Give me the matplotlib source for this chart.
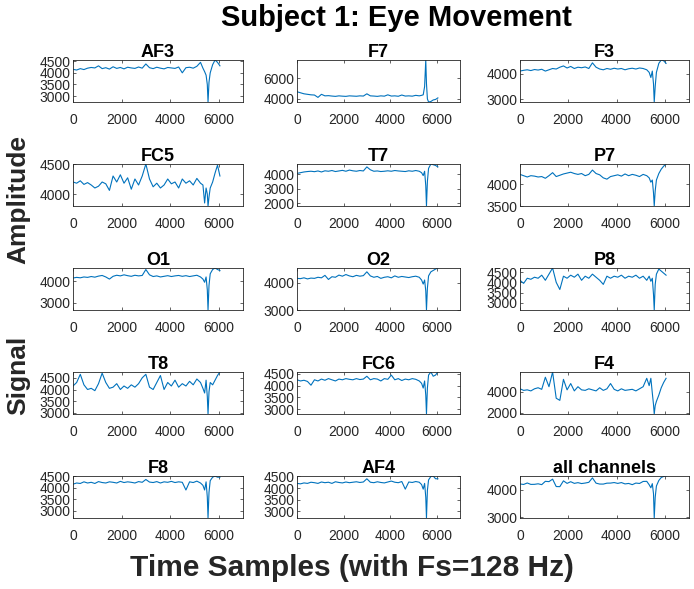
import numpy as np
import matplotlib
matplotlib.use("Agg")
import matplotlib.pyplot as plt

plt.rcParams['font.family'] = ['Liberation Sans', 'DejaVu Sans']

# sample positions the traces were read at
t = [0, 150, 300, 450, 600, 750, 900, 1050, 1200, 1350, 1500, 1650, 1800, 1950,
     2100, 2250, 2400, 2550, 2700, 2850, 3000, 3150, 3300, 3450, 3600, 3750,
     3900, 4050, 4200, 4350, 4500, 4650, 4800, 4950, 5100, 5250,
     5350, 5420, 5480, 5530, 5560, 5600, 5650, 5750, 5850, 5950, 6050]

AF3 = [4150, 4120, 4180, 4140, 4200, 4230, 4210, 4300, 4180, 4220, 4160, 4260, 4190, 4230,
       4170, 4240, 4210, 4190, 4250, 4200, 4380, 4220, 4180, 4240, 4200, 4170,
       4230, 4210, 4190, 4250, 4000, 4220, 4240, 4200, 4280, 4450,
       4200, 4050, 3900, 3500, 2750, 3600, 4000, 4350, 4550, 4450, 4300]
F7 = [4700, 4600, 4500, 4450, 4400, 4380, 4150, 4450, 4300, 4320, 4280, 4250, 4300, 4270,
      4250, 4300, 4280, 4260, 4300, 4280, 4500, 4300, 4280, 4250, 4300, 4270,
      4400, 4280, 4300, 4260, 4380, 4280, 4300, 4270, 4350, 4300,
      4350, 4400, 5200, 7800, 5500, 4000, 3700, 3750, 3900, 3950, 4100]
F3 = [4100, 4130, 4150, 4120, 4160, 4140, 4170, 4100, 4150, 4200, 4180, 4250, 4300, 4220,
      4280, 4200, 4250, 4230, 4260, 4200, 4420, 4250, 4180, 4150, 4200, 4170,
      4210, 4180, 4200, 4150, 4190, 4210, 4180, 4220, 4200, 4150,
      4050, 3850, 4100, 3600, 2900, 3500, 4050, 4400, 4530, 4500, 4400]
FC5 = [4200, 4180, 4220, 4160, 4190, 4150, 4100, 4130, 4200, 4170, 4060, 4300, 4200, 4320,
       4180, 4270, 4080, 4250, 4150, 4300, 4500, 4250, 4120, 4180, 4100, 4150,
       4250, 4170, 4200, 4100, 4250, 4180, 4220, 4150, 4260, 4180,
       4150, 3850, 4100, 4000, 3800, 3950, 4100, 4200, 4350, 4480, 4300]
T7 = [4050, 4100, 4150, 4180, 4200, 4170, 4220, 4150, 4230, 4200, 4250, 4180, 4220, 4260,
      4200, 4280, 4230, 4200, 4250, 4220, 4500, 4300, 4200, 4220, 4180, 4200,
      4230, 4200, 4250, 4220, 4200, 4180, 4230, 4200, 4250, 4200,
      4100, 3900, 4200, 3200, 1800, 3500, 4400, 4700, 4650, 4600, 4500]
P7 = [4230, 4200, 4170, 4200, 4190, 4170, 4180, 4140, 4200, 4270, 4180, 4210, 4240, 4260,
      4280, 4250, 4230, 4250, 4200, 4230, 4330, 4250, 4220, 4150, 4120, 4180,
      4200, 4220, 4190, 4240, 4200, 4230, 4210, 4180, 4230, 4200,
      4150, 4050, 4100, 3800, 3500, 3850, 4100, 4250, 4350, 4420, 4470]
O1 = [4150, 4180, 4160, 4200, 4180, 4220, 4190, 4240, 4270, 4200, 4100, 4230, 4280, 4250,
      4300, 4260, 4230, 4280, 4250, 4270, 4550, 4300, 4220, 4250, 4200, 4230,
      4260, 4220, 4250, 4270, 4230, 4260, 4220, 4250, 4280, 4200,
      4100, 3950, 4200, 3600, 2650, 3800, 4350, 4550, 4620, 4550, 4500]
O2 = [4160, 4150, 4180, 4140, 4170, 4160, 4200, 4180, 4270, 4120, 4220, 4200, 4280, 4240,
      4300, 4250, 4220, 4270, 4240, 4260, 4400, 4250, 4200, 4230, 4160, 4200,
      4220, 4180, 4250, 4200, 4230, 4210, 4190, 4220, 4240, 4200,
      4100, 3950, 4100, 3700, 3000, 3800, 4250, 4400, 4450, 4500, 4540]
P8 = [4100, 3950, 4200, 4150, 4250, 4200, 4350, 4100, 4400, 4700, 4000, 3650, 4300, 4200,
      4350, 4250, 4400, 4100, 4300, 4200, 4400, 4250, 4100, 3900, 4300, 4200,
      4300, 4250, 4350, 4200, 4300, 4250, 4350, 4200, 4300, 4100,
      4300, 4050, 4200, 3400, 2650, 3900, 4400, 4650, 4550, 4450, 4350]
T8 = [4150, 4300, 4650, 4200, 4000, 4050, 3950, 4250, 4700, 4300, 4050, 4100, 4250, 4000,
      4150, 4050, 4200, 4100, 4250, 4500, 4650, 4100, 4000, 4300, 4600, 4000,
      4300, 4150, 4400, 4100, 4250, 4150, 4350, 4200, 4450, 4300,
      4050, 3850, 4400, 3700, 2950, 3900, 4300, 4200, 4400, 4600, 4750]
FC6 = [4250, 4200, 4230, 4180, 4020, 4250, 4200, 4280, 4230, 4300, 4250, 4200, 4280, 4250,
       4300, 4270, 4250, 4300, 4260, 4280, 4400, 4250, 4300, 4280, 4200, 4300,
       4270, 4450, 4250, 4300, 4220, 4280, 4250, 4300, 4270, 4200,
       4100, 3900, 4200, 3600, 2800, 3900, 4450, 4580, 4400, 4450, 4580]
F4 = [4300, 4150, 4200, 4100, 4300, 4400, 4250, 5400, 4500, 5900, 3400, 3200, 5200, 4200,
      4800, 4100, 4500, 4200, 4150, 4300, 4200, 4100, 4400, 4150, 4300, 4800,
      4250, 4100, 4300, 4150, 4200, 4250, 4100, 4300, 4500, 5300,
      4600, 5300, 3900, 2800, 1900, 2700, 3100, 3700, 4400, 4900, 5300]
F8 = [4150, 4200, 4180, 4250, 4200, 4230, 4180, 4260, 4220, 4200, 4250, 4230, 4200, 4270,
      4220, 4250, 4230, 4200, 4260, 4230, 4350, 4240, 4220, 4260, 4200, 4250,
      4230, 4270, 4220, 4250, 4230, 3900, 4250, 4220, 4280, 4200,
      4100, 3900, 4250, 3600, 2700, 3800, 4300, 4450, 4500, 4450, 4450]
AF4 = [4200, 4180, 4220, 4200, 4250, 4230, 4200, 4260, 4230, 4250, 4200, 4270, 4240, 4220,
       4260, 4230, 4250, 4270, 4240, 4260, 4400, 4250, 4230, 4270, 4240, 4220,
       4260, 4300, 4250, 4230, 4280, 3950, 4260, 4240, 4280, 4250,
       4150, 3950, 4200, 3600, 2700, 3900, 4350, 4500, 4520, 4400, 4400]

channels = ['AF3', 'F7', 'F3', 'FC5', 'T7', 'P7', 'O1', 'O2', 'P8', 'T8', 'FC6', 'F4', 'F8', 'AF4']
signals = [AF3, F7, F3, FC5, T7, P7, O1, O2, P8, T8, FC6, F4, F8, AF4]
all_channels = np.mean(np.array(signals), axis=0)

titles = channels + ['all channels']
traces = signals + [all_channels]
yticks = [[3000, 3500, 4000, 4500], [4000, 6000], [3000, 4000],
          [4000, 4500], [2000, 3000, 4000], [3500, 4000],
          [3000, 4000], [3000, 4000], [3000, 3500, 4000, 4500],
          [3000, 3500, 4000, 4500], [3000, 3500, 4000, 4500], [2000, 4000],
          [3000, 3500, 4000, 4500], [3000, 3500, 4000, 4500], [3000, 4000]]

W, H = 694, 589
fig = plt.figure(figsize=(W / 100, H / 100), dpi=100)

col_left = [73, 297, 520]
col_width = [170, 163, 169]
row_top = [60, 164, 268, 372, 476]
ax_h = 42
dark = '#262626'

for k in range(15):
    r, c = k // 3, k % 3
    ax = fig.add_axes([col_left[c] / W, 1 - (row_top[r] + ax_h) / H,
                       col_width[c] / W, ax_h / H])
    y = np.asarray(traces[k])
    ax.plot(t, y, color='#0072BD', lw=0.8)
    ax.set_xlim(0, 7000)
    ax.set_ylim(y.min(), y.max())
    ax.set_xticks([0, 2000, 4000, 6000])
    ax.set_yticks(yticks[k])
    ax.tick_params(direction='in', length=2.5, width=0.5, top=True, right=True,
                   labelsize=10, colors=dark, pad=2)
    ax.tick_params(axis='x', pad=8)
    for s in ax.spines.values():
        s.set_color(dark)
        s.set_linewidth(0.6)
    ax.set_title(titles[k], fontsize=13, fontweight='bold', pad=2)

fig.text(396 / W, 1 - 18 / H, 'Subject 1: Eye Movement', ha='center', va='center',
         fontsize=21, fontweight='bold')
fig.text(352 / W, 1 - 568 / H, 'Time Samples (with Fs=128 Hz)', ha='center', va='center',
         fontsize=21.5, fontweight='bold', color=dark)
fig.text(18 / W, 1 - 200 / H, 'Amplitude', ha='center', va='center', rotation=90,
         fontsize=19, fontweight='bold', color=dark)
fig.text(18 / W, 1 - 375 / H, 'Signal', ha='center', va='center', rotation=90,
         fontsize=19, fontweight='bold', color=dark)

fig.savefig('out.png', dpi=100)
